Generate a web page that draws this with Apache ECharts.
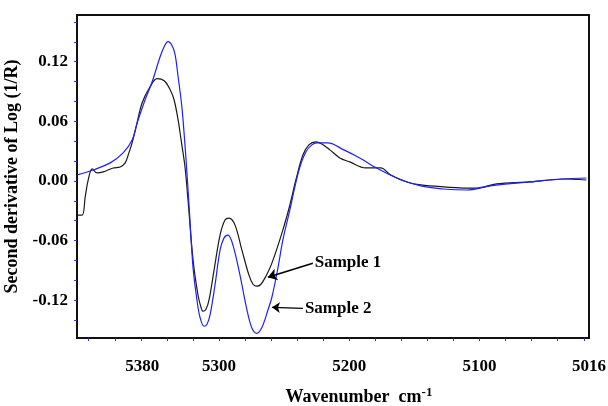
<!DOCTYPE html>
<html>
<head>
<meta charset="utf-8">
<script src="https://cdn.jsdelivr.net/npm/echarts@6/dist/echarts.min.js"></script>
<style>
  html, body { margin: 0; padding: 0; background: #fff; }
  #chart { width: 608px; height: 406px; }
</style>
</head>
<body>
<div id="chart"></div>
<script>
// wavenumber (cm-1) and second derivative values
const sample1Wn = [5408.8, 5405.0, 5402.7, 5400.4, 5397.3, 5393.5, 5388.9, 5381.2, 5375.9, 5372.0,
  5369.7, 5366.7, 5363.6, 5359.0, 5352.9, 5347.5, 5342.1, 5337.5, 5334.5, 5331.4,
  5329.1, 5326.1, 5323.8, 5319.9, 5316.1, 5313.8, 5312.3, 5310.0, 5307.7, 5303.8,
  5299.2, 5295.4, 5292.3, 5287.7, 5282.4, 5277.0, 5273.9, 5270.9, 5267.8, 5264.0,
  5259.4, 5251.0, 5245.6, 5241.0, 5235.6, 5231.0, 5225.7, 5221.1, 5214.9, 5207.3,
  5199.6, 5187.4, 5175.9, 5168.2, 5155.9, 5145.2, 5125.3, 5110.0, 5102.3, 5087.0,
  5061.7, 5036.4, 5018.0]
const sample1Val = [-0.0343, -0.0343, -0.0161, 0.0010, 0.0121, 0.0081, 0.0091, 0.0131, 0.0141, 0.0182,
  0.0262, 0.0383, 0.0545, 0.0787, 0.0948, 0.1029, 0.1008, 0.0918, 0.0817, 0.0615,
  0.0413, 0.0141, -0.0192, -0.0797, -0.1150, -0.1271, -0.1311, -0.1291, -0.1200, -0.0897,
  -0.0545, -0.0393, -0.0373, -0.0444, -0.0696, -0.0948, -0.1039, -0.1059, -0.1039, -0.0958,
  -0.0827, -0.0494, -0.0242, 0.0010, 0.0262, 0.0363, 0.0393, 0.0373, 0.0313, 0.0232,
  0.0192, 0.0131, 0.0131, 0.0061, -0.0010, -0.0040, -0.0061, -0.0071, -0.0071, -0.0030,
  -0.0010, 0.0020, 0.0010]

const sample2Wn = [5408.8, 5396.6, 5383.5, 5373.6, 5366.7, 5362.8, 5356.7, 5351.3, 5345.2, 5341.4,
  5339.1, 5336.0, 5333.7, 5331.4, 5329.1, 5327.6, 5325.3, 5323.0, 5319.9, 5316.9,
  5314.6, 5311.5, 5309.2, 5306.9, 5303.1, 5299.2, 5296.2, 5293.1, 5289.3, 5283.9,
  5278.5, 5274.7, 5270.9, 5267.0, 5262.5, 5259.4, 5254.8, 5251.0, 5245.6, 5241.8,
  5237.9, 5233.3, 5228.7, 5224.9, 5216.5, 5204.2, 5192.0, 5182.0, 5163.6, 5145.2,
  5127.6, 5110.0, 5091.6, 5061.7, 5036.4, 5018.0]
const sample2Val = [0.0061, 0.0111, 0.0182, 0.0282, 0.0413, 0.0585, 0.0817, 0.0998, 0.1250, 0.1371,
  0.1402, 0.1361, 0.1271, 0.1049, 0.0817, 0.0615, 0.0212, -0.0242, -0.0877, -0.1200,
  -0.1371, -0.1462, -0.1442, -0.1351, -0.1049, -0.0696, -0.0575, -0.0545, -0.0645, -0.0948,
  -0.1301, -0.1482, -0.1533, -0.1472, -0.1301, -0.1170, -0.0877, -0.0595, -0.0292, -0.0061,
  0.0141, 0.0292, 0.0363, 0.0383, 0.0383, 0.0313, 0.0232, 0.0151, 0.0030, -0.0050,
  -0.0081, -0.0091, -0.0050, -0.0010, 0.0020, 0.0030]

// axis ticks / labels as printed on the figure
const xTickValues = [5400, 5380, 5360, 5340, 5320, 5300, 5280, 5260, 5240, 5220, 5200,
  5180, 5160, 5140, 5120, 5100, 5080, 5060, 5040, 5020]
const xLabelValues = [5359, 5300, 5200, 5100, 5016]
const xLabelText = ['5380', '5300', '5200', '5100', '5016']
const yTickValues = [-0.14, -0.12, -0.10, -0.08, -0.06, -0.04, -0.02, 0, 0.02, 0.04, 0.06, 0.08, 0.10, 0.12, 0.14, 0.16]
const yLabelValues = [-0.12, -0.06, 0, 0.06, 0.12]

// arrows: [label end, tip]
const arrow1 = [[5228.0, -0.0827], [5262.5, -0.0968]]
const arrow2 = [[5235.6, -0.1281], [5259.4, -0.1271]]

const font = "'Times New Roman', 'Liberation Serif', serif"

const chart = echarts.init(document.getElementById('chart'))

const pairs = (xs, ys) => xs.map((x, i) => [x, ys[i]])

chart.setOption({
  animation: false,
  grid: {
    left: 77,
    right: 19,
    top: 15,
    bottom: 68,
    outerBoundsMode: 'none',
    containLabel: false,
    show: true,
    borderColor: '#111',
    borderWidth: 2
  },
  xAxis: {
    type: 'value',
    inverse: true,
    min: 5016,
    max: 5409,
    name: '{a|Wavenumber  cm}{b|-1}',
    nameLocation: 'middle',
    nameGap: 48,
    nameTextStyle: {
      padding: [0, 0, 0, 52],
      rich: {
        a: { fontFamily: font, fontWeight: 'bold', fontSize: 18, color: '#000' },
        b: { fontFamily: font, fontWeight: 'bold', fontSize: 13, color: '#000', padding: [0, 0, 10, 0] }
      }
    },
    axisLine: { onZero: false, lineStyle: { color: '#111', width: 2 } },
    axisTick: { show: true, length: 3, customValues: xTickValues, lineStyle: { color: '#2b2bff' } },
    axisLabel: {
      customValues: xLabelValues,
      margin: 20,
      fontFamily: font,
      fontWeight: 'bold',
      fontSize: 17,
      color: '#000',
      formatter: (v) => xLabelText[xLabelValues.indexOf(v)]
    },
    splitLine: { show: false }
  },
  yAxis: {
    type: 'value',
    min: -0.158,
    max: 0.167,
    name: 'Second derivative of Log (1/R)',
    nameLocation: 'middle',
    nameGap: 52,
    nameTextStyle: { fontFamily: font, fontWeight: 'bold', fontSize: 18, color: '#000' },
    axisLine: { show: true, onZero: false, lineStyle: { color: '#111', width: 2 } },
    axisTick: { show: true, length: 3, customValues: yTickValues, lineStyle: { color: '#2b2bff' } },
    axisLabel: {
      customValues: yLabelValues,
      margin: 9,
      fontFamily: font,
      fontWeight: 'bold',
      fontSize: 17,
      color: '#000',
      formatter: (v) => v.toFixed(2)
    },
    splitLine: { show: false }
  },
  series: [
    {
      name: 'Sample 1',
      type: 'line',
      data: pairs(sample1Wn, sample1Val),
      showSymbol: false,
      smooth: 0.35,
      lineStyle: { color: '#1a1a1a', width: 1.2 },
      markLine: {
        silent: true,
        symbol: ['none', 'arrow'],
        symbolSize: 9,
        lineStyle: { color: '#000', width: 1.6, type: 'solid' },
        label: {
          show: true,
          position: 'start',
          distance: 2,
          formatter: 'Sample 1',
          fontFamily: font, fontWeight: 'bold', fontSize: 17, color: '#000'
        },
        data: [[{ coord: arrow1[0] }, { coord: arrow1[1] }]]
      }
    },
    {
      name: 'Sample 2',
      type: 'line',
      data: pairs(sample2Wn, sample2Val),
      showSymbol: false,
      smooth: 0.35,
      lineStyle: { color: '#1f1fff', width: 1.2 },
      markLine: {
        silent: true,
        symbol: ['none', 'arrow'],
        symbolSize: 8,
        lineStyle: { color: '#000', width: 1.2, type: 'solid' },
        label: {
          show: true,
          position: 'start',
          distance: 2,
          formatter: 'Sample 2',
          fontFamily: font, fontWeight: 'bold', fontSize: 17, color: '#000'
        },
        data: [[{ coord: arrow2[0] }, { coord: arrow2[1] }]]
      }
    }
  ]
})
</script>
</body>
</html>
